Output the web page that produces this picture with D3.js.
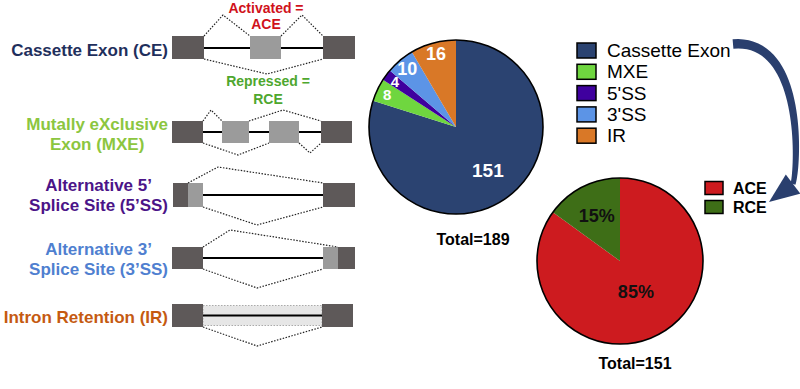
<!DOCTYPE html>
<html>
<head>
<meta charset="utf-8">
<script src="https://cdnjs.cloudflare.com/ajax/libs/d3/7.8.5/d3.min.js"></script>
<style>
body { margin: 0; background: #fff; }
svg { display: block; font-family: "Liberation Sans", Arial, sans-serif; }
</style>
</head>
<body>
<svg id="chart" width="800" height="389"></svg>
<script>
// splicing event types (first pie)
var typeNames = ["Cassette Exon", "MXE", "5'SS", "3'SS", "IR"];
var typeCounts = [151, 8, 4, 10, 16];
var typeColors = ["#2b4371", "#6fd63f", "#3f009e", "#5c94e6", "#d97827"];

// cassette exons split (second pie)
var ceNames = ["ACE", "RCE"];
var cePercents = [85, 15];
var ceColors = ["#cd1b1f", "#3e6e17"];
var ceTotal = 151;

// left hand schematic labels
var eventLabels = [
    ["Cassette Exon (CE)"],
    ["Mutally eXclusive", "Exon (MXE)"],
    ["Alternative 5\u2019", "Splice Site (5\u2019SS)"],
    ["Alternative 3\u2019", "Splice Site (3\u2019SS)"],
    ["Intron Retention (IR)"]
];
var eventColors = ["#1f2f5c", "#8cc63f", "#4b1488", "#4f7fd0", "#c55a11"];

var svg = d3.select("#chart");
var DARK = "#5e5959", LIGHT = "#9b9b9b";

// ---------- labels of the schematics ----------
var labelY = [[50], [124, 144], [185, 205], [249, 269], [317]];
eventLabels.forEach(function (lines, i) {
    var g = svg.append("g");
    var tx = g.selectAll("text").data(lines).enter().append("text")
        .attr("x", 0)
        .attr("y", function (d, j) { return labelY[i][j]; })
        .attr("dy", "0.35em")
        .attr("text-anchor", "middle")
        .attr("font-size", 17)
        .attr("font-weight", "bold")
        .attr("fill", eventColors[i])
        .text(function (d) { return d; });
    var maxW = 0;
    tx.each(function () { maxW = Math.max(maxW, this.getComputedTextLength()); });
    g.attr("transform", "translate(" + (168 - maxW / 2) + ",0)");
});

// ---------- schematics ----------
var sg = svg.append("g");
function exon(x0, x1, yc, h, fill) {
    sg.append("rect").attr("x", x0).attr("y", yc - h / 2)
        .attr("width", x1 - x0).attr("height", h).attr("fill", fill);
}
function intron(x0, x1, y) {
    sg.append("line").attr("x1", x0).attr("x2", x1).attr("y1", y).attr("y2", y)
        .attr("stroke", "#000").attr("stroke-width", 2);
}
function dots(pts) {
    sg.append("polyline").attr("points", pts.map(function (p) { return p.join(","); }).join(" "))
        .attr("fill", "none").attr("stroke", "#222").attr("stroke-width", 1.2)
        .attr("stroke-dasharray", "1.5,1.5");
}
function note(txt, x, y, col) {
    sg.append("text").attr("x", x).attr("y", y).attr("dy", "0.35em")
        .attr("text-anchor", "middle").attr("font-size", 14).attr("font-weight", "bold")
        .attr("fill", col).text(txt);
}

// CE
intron(204, 323, 48);
exon(172, 204, 47.5, 23, DARK);
exon(250, 281, 47.5, 23, LIGHT);
exon(323, 355, 47.5, 23, DARK);
dots([[204, 36], [223, 15], [250, 36]]);
dots([[281, 36], [302, 15], [323, 36]]);
dots([[204, 59], [267, 74], [323, 59]]);
note("Activated =", 266, 8, "#d0121b");
note("ACE", 266, 24, "#d0121b");
note("Repressed =", 268, 81, "#4ea72e");
note("RCE", 268, 99, "#4ea72e");

// MXE
intron(203, 321, 132);
exon(172, 203, 132, 22, DARK);
exon(222, 249, 132, 22, LIGHT);
exon(269, 299, 132, 22, LIGHT);
exon(321, 352, 132, 22, DARK);
dots([[203, 121], [211, 110], [222, 121]]);
dots([[249, 121], [283, 110], [321, 121]]);
dots([[203, 143], [238, 155], [269, 143]]);
dots([[299, 143], [310, 153], [321, 143]]);

// 5'SS
intron(203, 323, 195);
exon(173, 188, 195, 24, DARK);
exon(188, 203, 195, 24, LIGHT);
exon(323, 355, 195, 24, DARK);
dots([[188, 183], [218, 167], [323, 183]]);
dots([[203, 207], [257, 225], [323, 207]]);

// 3'SS
intron(203, 323, 258);
exon(172, 203, 258, 22, DARK);
exon(323, 338, 258, 22, LIGHT);
exon(338, 355, 258, 22, DARK);
dots([[203, 247], [230, 230], [338, 247]]);
dots([[203, 269], [257, 288], [323, 269]]);

// IR
sg.append("rect").attr("x", 203).attr("y", 305.5).attr("width", 119).attr("height", 20)
    .attr("fill", "#e6e6e6").attr("stroke", "#aaa").attr("stroke-width", 1)
    .attr("stroke-dasharray", "1.5,1.5");
intron(203, 322, 315.5);
exon(172, 203, 315.5, 23, DARK);
exon(322, 353, 315.5, 23, DARK);
dots([[203, 327], [257, 346], [322, 327]]);

// ---------- pies ----------
function drawPie(cx, cy, r, values, colors, labels, labelFill, labelSizes, labelRadius) {
    var pie = d3.pie().sort(null).value(function (d) { return d; });
    var arcs = pie(values);
    var arc = d3.arc().innerRadius(0).outerRadius(r);
    var g = svg.append("g").attr("transform", "translate(" + cx + "," + cy + ")");
    g.selectAll("path").data(arcs).enter().append("path")
        .attr("d", arc)
        .attr("fill", function (d, i) { return colors[i]; });
    g.append("circle").attr("r", r).attr("fill", "none")
        .attr("stroke", "#000").attr("stroke-width", 1.6);
    g.selectAll("text").data(arcs).enter().append("text")
        .attr("transform", function (d, i) {
            var lr = labelRadius(d) ;
            var c = d3.arc().innerRadius(lr).outerRadius(lr).centroid(d);
            return "translate(" + c[0] + "," + c[1] + ")";
        })
        .attr("dy", "0.35em")
        .attr("text-anchor", "middle")
        .attr("font-weight", "bold")
        .attr("font-size", function (d, i) { return labelSizes[i]; })
        .attr("fill", labelFill)
        .text(function (d, i) { return labels[i]; });
    return g;
}

drawPie(456, 127, 87, typeCounts, typeColors,
    typeCounts.map(String), "#fff", [19, 15, 15, 18, 18],
    function (d) { return (d.endAngle - d.startAngle) > Math.PI ? 54 : 76; });

drawPie(620, 261, 83, cePercents, ceColors,
    cePercents.map(function (v) { return v + "%"; }), "#111", [18, 18],
    function (d) { return (d.endAngle - d.startAngle) > Math.PI ? 35 : 51; });

svg.append("text").attr("x", 473).attr("y", 239).attr("dy", "0.35em")
    .attr("text-anchor", "middle").attr("font-size", 16).attr("font-weight", "bold")
    .text("Total=" + d3.sum(typeCounts));
svg.append("text").attr("x", 635).attr("y", 363).attr("dy", "0.35em")
    .attr("text-anchor", "middle").attr("font-size", 16).attr("font-weight", "bold")
    .text("Total=" + ceTotal);

// ---------- legends ----------
var lg1 = svg.append("g").selectAll("g").data(typeNames).enter().append("g")
    .attr("transform", function (d, i) { return "translate(577," + (50.5 + i * 21.3) + ")"; });
lg1.append("rect").attr("x", 0).attr("y", -7.5).attr("width", 19).attr("height", 15)
    .attr("fill", function (d, i) { return typeColors[i]; })
    .attr("stroke", "#000").attr("stroke-width", 1.5);
lg1.append("text").attr("x", 30).attr("dy", "0.35em").attr("font-size", 19)
    .text(function (d) { return d; });

var lg2 = svg.append("g").selectAll("g").data(ceNames).enter().append("g")
    .attr("transform", function (d, i) { return "translate(705," + (188 + i * 19) + ")"; });
lg2.append("rect").attr("x", 0).attr("y", -6.5).attr("width", 18).attr("height", 13)
    .attr("fill", function (d, i) { return ceColors[i]; })
    .attr("stroke", "#000").attr("stroke-width", 1.5);
lg2.append("text").attr("x", 28).attr("dy", "0.35em").attr("font-size", 16)
    .attr("font-weight", "bold").text(function (d) { return d; });

// ---------- curved arrow ----------
var P = [[733, 44], [805, 38], [798, 168], [793, 184]];
function bez(t) {
    var u = 1 - t;
    return [u*u*u*P[0][0] + 3*u*u*t*P[1][0] + 3*u*t*t*P[2][0] + t*t*t*P[3][0],
            u*u*u*P[0][1] + 3*u*u*t*P[1][1] + 3*u*t*t*P[2][1] + t*t*t*P[3][1]];
}
function bezD(t) {
    var u = 1 - t;
    return [3*u*u*(P[1][0]-P[0][0]) + 6*u*t*(P[2][0]-P[1][0]) + 3*t*t*(P[3][0]-P[2][0]),
            3*u*u*(P[1][1]-P[0][1]) + 6*u*t*(P[2][1]-P[1][1]) + 3*t*t*(P[3][1]-P[2][1])];
}
var left = [], right = [];
for (var k = 0; k <= 40; k++) {
    var t = k / 40, p = bez(t), dv = bezD(t);
    var len = Math.sqrt(dv[0]*dv[0] + dv[1]*dv[1]);
    var nx = -dv[1] / len, ny = dv[0] / len;
    var hw = 4.8 - 2.3 * t;
    left.push([p[0] + nx*hw, p[1] + ny*hw]);
    right.push([p[0] - nx*hw, p[1] - ny*hw]);
}
var shaft = left.concat(right.reverse());
svg.append("path").attr("d", d3.line()(shaft) + "Z").attr("fill", "#2a3f6e");
var hd = [-0.8, 0.6], hn = [0.6, 0.8], hb = P[3];
svg.append("path").attr("d", d3.line()([
    [hb[0] + hn[0]*12, hb[1] + hn[1]*12],
    [hb[0] + hd[0]*30, hb[1] + hd[1]*30],
    [hb[0] - hn[0]*12, hb[1] - hn[1]*12]
]) + "Z").attr("fill", "#2a3f6e");
</script>
</body>
</html>
